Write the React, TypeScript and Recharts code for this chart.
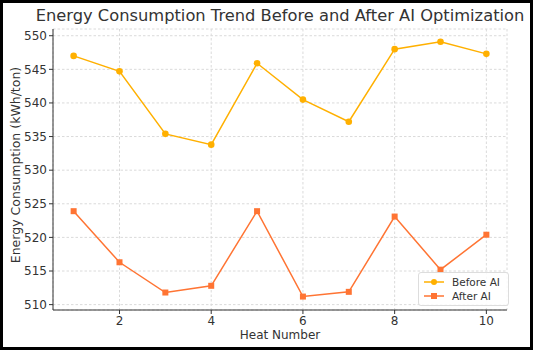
import { CartesianGrid, Label, Legend, Line, LineChart, XAxis, YAxis } from "recharts";

const heats = [1, 2, 3, 4, 5, 6, 7, 8, 9, 10];
const beforeAI = [547.0, 544.7, 535.4, 533.8, 545.9, 540.5, 537.2, 548.0, 549.1, 547.3];
const afterAI = [523.9, 516.3, 511.8, 512.8, 523.9, 511.2, 511.9, 523.1, 515.2, 520.4];
const xTicks = [2, 4, 6, 8, 10];
const yTicks = [510, 515, 520, 525, 530, 535, 540, 545, 550];

const BEFORE = "#FFB000";
const AFTER = "#FF7433";
const INK = "#333";
const FONT = "'DejaVu Sans', sans-serif";

const data = heats.map((h, i) => ({ heat: h, before: beforeAI[i], after: afterAI[i] }));

function SquareDot(props: any) {
  const { cx, cy, index } = props;
  if (cx == null || cy == null) return <g key={`sq-${index}`} />;
  return <rect key={`sq-${index}`} x={cx - 3} y={cy - 3} width={6} height={6} fill={AFTER} />;
}

function LegendBox() {
  const row = (color: string, square: boolean, text: string) => (
    <div style={{ display: "flex", alignItems: "center", height: 14 }}>
      <svg width={22} height={10}>
        <line x1={1} y1={5} x2={21} y2={5} stroke={color} strokeWidth={1.5} />
        {square
          ? <rect x={8} y={2} width={6} height={6} fill={color} />
          : <circle cx={11} cy={5} r={3} fill={color} />}
      </svg>
      <span style={{ marginLeft: 7 }}>{text}</span>
    </div>
  );
  return (
    <div style={{
      background: "rgba(255,255,255,0.85)", border: "1px solid #ddd", borderRadius: 3,
      padding: "2px 8px 2px 4px", fontFamily: FONT, fontSize: 10.5, color: INK, lineHeight: "14px",
    }}>
      {row(BEFORE, false, "Before AI")}
      {row(AFTER, true, "After AI")}
    </div>
  );
}

export default function App() {
  return (
    <div style={{ position: "fixed", left: 0, top: 0, width: 534, height: 351, background: "#fff" }}>
      <div style={{
        position: "absolute", left: 0, top: 0, width: 533, height: 350, boxSizing: "border-box",
        border: "3px solid #000",
      }} />
      <div style={{
        position: "absolute", left: 30, top: 6, width: 500, textAlign: "center", whiteSpace: "nowrap",
        fontFamily: FONT, fontSize: 16.3, color: INK,
      }}>
        Energy Consumption Trend Before and After AI Optimization
      </div>
      <div style={{ position: "absolute", left: 0, top: 0 }}>
        <LineChart width={534} height={351} data={data} margin={{ top: 29, right: 27, bottom: 0, left: 0 }}>
          <CartesianGrid stroke="#dadada" strokeDasharray="2.5 2" />
          <XAxis
            dataKey="heat" type="number" domain={[0.55, 10.45]} ticks={xTicks} allowDataOverflow
            height={41} tickSize={4} tickMargin={2} stroke={INK}
            tick={{ fill: INK, fontSize: 12, fontFamily: FONT }}
          >
            <Label content={() => (
              <text x={280} y={338.5} textAnchor="middle" fontSize={12} fill={INK} fontFamily={FONT}>
                Heat Number
              </text>
            )} />
          </XAxis>
          <YAxis
            type="number" domain={[509.2, 551.0]} ticks={yTicks} allowDataOverflow
            width={53} tickSize={4} tickMargin={2} stroke={INK}
            tick={{ fill: INK, fontSize: 12, fontFamily: FONT }}
          >
            <Label content={() => (
              <text x={15} y={165} transform="rotate(-90, 15, 165)" textAnchor="middle"
                dominantBaseline="central" fontSize={12.5} fill={INK} fontFamily={FONT}>
                Energy Consumption (kWh/ton)
              </text>
            )} />
          </YAxis>
          <Legend
            layout="vertical" align="center" verticalAlign="middle" content={<LegendBox />}
            wrapperStyle={{ left: 418, top: 272, width: "auto", height: "auto" }}
          />
          <Line
            type="linear" dataKey="before" name="Before AI" stroke={BEFORE} strokeWidth={1.5}
            dot={{ r: 3.3, fill: BEFORE, stroke: BEFORE, strokeWidth: 0 }} activeDot={false}
            isAnimationActive={false}
          />
          <Line
            type="linear" dataKey="after" name="After AI" stroke={AFTER} strokeWidth={1.5}
            dot={SquareDot} activeDot={false} isAnimationActive={false}
          />
        </LineChart>
      </div>
    </div>
  );
}
